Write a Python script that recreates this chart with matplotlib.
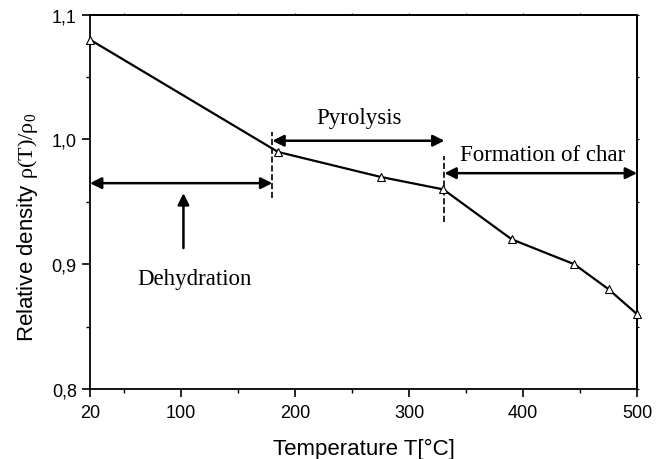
import numpy as np
import matplotlib
matplotlib.use('Agg')
import matplotlib.pyplot as plt
from matplotlib.ticker import MultipleLocator, FixedLocator, FuncFormatter

plt.rcParams['font.family'] = ['Liberation Sans', 'DejaVu Sans']
plt.rcParams['mathtext.fontset'] = 'custom'
plt.rcParams['mathtext.rm'] = 'Liberation Serif'
plt.rcParams['mathtext.it'] = 'Liberation Serif:italic'

# ==================== data ====================
temp = [20, 185, 275, 330, 390, 445, 475, 500]
rho = [1.08, 0.99, 0.97, 0.96, 0.92, 0.90, 0.88, 0.86]

x_ticks = [20, 100, 200, 300, 400, 500]
y_ticks = [0.8, 0.9, 1.0, 1.1]

# stage boundaries (°C)
t_dehyd = 180
t_pyro = 331

# ==================== figure ====================
fig = plt.figure(figsize=(6.65, 4.6), dpi=100)
ax = fig.add_axes([0.1353, 0.152, 0.958 - 0.1353, 0.9659 - 0.152])

ax.plot(temp, rho, '-', color='black', lw=1.6, marker='^', markersize=6,
        markerfacecolor='white', markeredgecolor='black', markeredgewidth=0.8,
        clip_on=False, zorder=3)

ax.set_xlim(20, 500)
ax.set_ylim(0.8, 1.1)
ax.xaxis.set_major_locator(FixedLocator(x_ticks))
ax.xaxis.set_minor_locator(FixedLocator([50, 150, 250, 350, 450]))
ax.yaxis.set_major_locator(FixedLocator(y_ticks))
ax.yaxis.set_minor_locator(MultipleLocator(0.05))
ax.yaxis.set_major_formatter(FuncFormatter(lambda v, p: f'{v:.1f}'.replace('.', ',')))

ax.tick_params(axis='both', which='major', direction='out', length=6, width=1.2,
               labelsize=13, top=False, right=False)
ax.tick_params(axis='x', which='major', pad=5)
ax.tick_params(axis='both', which='minor', direction='out', length=3, width=1.0,
               top=False, right=False)
for s in ax.spines.values():
    s.set_linewidth(1.3)

# barely visible ticks on top / right
ax_top = ax.secondary_xaxis('top')
ax_top.xaxis.set_major_locator(FixedLocator([50, 100, 150, 200, 250, 300, 350, 400, 450]))
ax_top.tick_params(direction='out', length=1.5, width=0.8, labeltop=False)
ax_top.spines['top'].set_linewidth(1.3)
ax_right = ax.secondary_yaxis('right')
ax_right.yaxis.set_major_locator(MultipleLocator(0.05))
ax_right.tick_params(direction='out', length=1.5, width=0.8, labelright=False)
ax_right.spines['right'].set_linewidth(1.3)

ax.set_xlabel('Temperature T[°C]', fontsize=16, labelpad=12)
ax.set_ylabel(r'Relative density $\mathrm{ρ(T)/ρ_0}$', fontsize=16)
ax.yaxis.set_label_coords(-0.092, 0.435)

# ==================== stage annotations ====================
arrow_kw = dict(arrowstyle='<|-|>', color='black', lw=1.8, mutation_scale=17,
                shrinkA=0, shrinkB=0)
serif = dict(family='Liberation Serif', fontsize=16.5, ha='center', va='center')

# Dehydration
ax.annotate('', xy=(20, 0.965), xytext=(t_dehyd, 0.965), arrowprops=arrow_kw)
ax.annotate('', xy=(102, 0.957), xytext=(102, 0.913),
            arrowprops=dict(arrowstyle='-|>', color='black', lw=1.8,
                            mutation_scale=17, shrinkA=0, shrinkB=0))
ax.text(112, 0.889, 'Dehydration', **serif)
ax.plot([t_dehyd, t_dehyd], [0.953, 1.006], '--', color='black', lw=1.2)

# Pyrolysis
ax.annotate('', xy=(t_dehyd, 0.999), xytext=(t_pyro, 0.999), arrowprops=arrow_kw)
ax.text(256, 1.018, 'Pyrolysis', **serif)
ax.plot([t_pyro, t_pyro], [0.934, 0.987], '--', color='black', lw=1.2)

# Formation of char
ax.annotate('', xy=(t_pyro, 0.973), xytext=(500, 0.973), arrowprops=arrow_kw)
ax.text(417, 0.988, 'Formation of char', **serif)

fig.savefig('out.png', dpi=100)
